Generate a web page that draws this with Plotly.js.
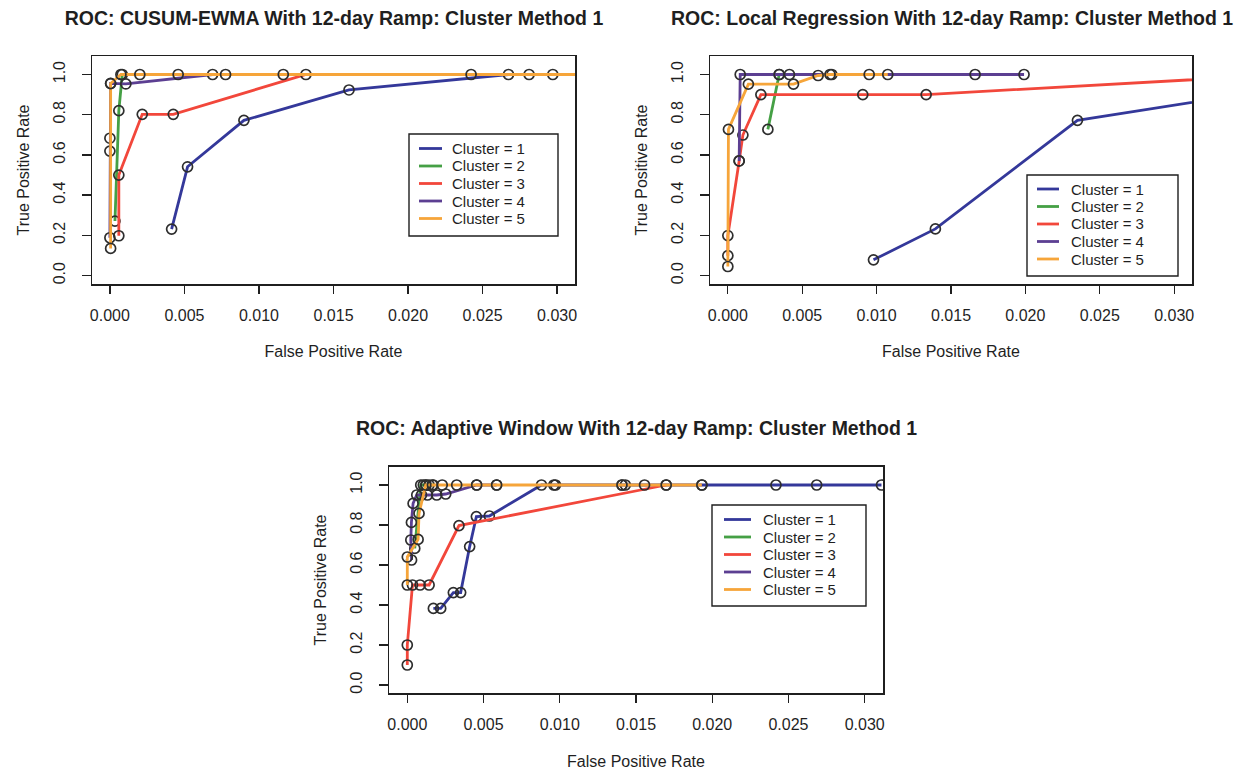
<!DOCTYPE html>
<html>
<head>
<meta charset="utf-8">
<script src="https://cdn.plot.ly/plotly-3.0.1.min.js"></script>
<style>html,body{margin:0;padding:0;background:#fff;}#chart{width:1248px;height:774px;}</style>
</head>
<body>
<div id="chart"></div>
<script>
// ---------------- data ----------------
const clusterNames = ["Cluster = 1", "Cluster = 2", "Cluster = 3", "Cluster = 4", "Cluster = 5"];
const clusterColors = ["#34389a", "#45a045", "#f2473b", "#5c3f92", "#f6a53a"];

const plotTitles = [
  "ROC: CUSUM-EWMA With 12-day Ramp: Cluster Method 1",
  "ROC: Local Regression With 12-day Ramp: Cluster Method 1",
  "ROC: Adaptive Window With 12-day Ramp: Cluster Method 1"
];
const xAxisTitle = "False Positive Rate";
const yAxisTitle = "True Positive Rate";
const xTickVals = [0, 0.005, 0.010, 0.015, 0.020, 0.025, 0.030];
const xTickText = ["0.000", "0.005", "0.010", "0.015", "0.020", "0.025", "0.030"];
const yTickVals = [0, 0.2, 0.4, 0.6, 0.8, 1.0];
const yTickText = ["0.0", "0.2", "0.4", "0.6", "0.8", "1.0"];

// CUSUM-EWMA
const cusum_c1_fpr = [0.00414, 0.00521, 0.00899, 0.01604, 0.02674, 0.02812, 0.02971, 0.0345];
const cusum_c1_tpr = [0.231, 0.541, 0.772, 0.923, 1.0, 1.0, 1.0, 1.0];
const cusum_c2_fpr = [0.00034, 0.00060, 0.00083];
const cusum_c2_tpr = [0.271, 0.820, 1.0];
const cusum_c3_fpr = [0.00060, 0.00060, 0.00217, 0.00425, 0.01315, 0.0345];
const cusum_c3_tpr = [0.198, 0.500, 0.802, 0.802, 1.0, 1.0];
const cusum_c4_fpr = [0.0, 0.0, 0.0, 0.00005, 0.00107, 0.00689];
const cusum_c4_tpr = [0.188, 0.619, 0.683, 0.956, 0.953, 1.0];
const cusum_c5_fpr = [0.00005, 0.00005, 0.00074, 0.00201, 0.00458, 0.00776, 0.01163, 0.02423, 0.0345];
const cusum_c5_tpr = [0.135, 0.955, 1.0, 1.0, 1.0, 1.0, 1.0, 1.0, 1.0];

// Local Regression
const loess_c1_fpr = [0.00979, 0.01395, 0.02350, 0.0385];
const loess_c1_tpr = [0.078, 0.232, 0.772, 0.946];
const loess_c2_fpr = [0.00269, 0.00345];
const loess_c2_tpr = [0.727, 1.0];
const loess_c3_fpr = [0.0, 0.0, 0.00076, 0.00101, 0.00222, 0.00907, 0.01333, 0.0370];
const loess_c3_tpr = [0.099, 0.199, 0.570, 0.699, 0.900, 0.900, 0.900, 0.998];
const loess_c4_fpr = [0.00076, 0.00083, 0.00345, 0.00414, 0.00699, 0.01662, 0.01991];
const loess_c4_tpr = [0.570, 1.0, 1.0, 1.0, 1.0, 1.0, 1.0];
const loess_c5_fpr = [0.0, 0.00004, 0.00138, 0.00441, 0.00607, 0.00687, 0.00950, 0.01075];
const loess_c5_tpr = [0.045, 0.727, 0.952, 0.952, 0.995, 1.0, 1.0, 1.0];

// Adaptive Window
const adapt_c1_fpr = [0.00171, 0.00219, 0.00302, 0.00350, 0.00409, 0.00453, 0.00538, 0.00880, 0.00961, 0.00972, 0.01408, 0.01430, 0.01932, 0.02418, 0.02685, 0.03110];
const adapt_c1_tpr = [0.383, 0.383, 0.462, 0.462, 0.692, 0.842, 0.845, 1.0, 1.0, 1.0, 1.0, 1.0, 1.0, 1.0, 1.0, 1.0];
const adapt_c2_fpr = [0.00049, 0.00088, 0.00105, 0.00124, 0.00143, 0.00170];
const adapt_c2_tpr = [0.683, 1.0, 1.0, 1.0, 1.0, 1.0];
const adapt_c3_fpr = [0.0, 0.0, 0.00034, 0.00084, 0.00143, 0.00339, 0.01698];
const adapt_c3_tpr = [0.100, 0.200, 0.500, 0.500, 0.500, 0.797, 1.0];
const adapt_c4_fpr = [0.00028, 0.00023, 0.00027, 0.00038, 0.00062, 0.00093, 0.00132, 0.00193, 0.00252, 0.00455, 0.00586];
const adapt_c4_tpr = [0.625, 0.725, 0.813, 0.908, 0.950, 0.950, 0.950, 0.950, 0.955, 1.0, 1.0];
const adapt_c5_fpr = [0.0, 0.0, 0.00071, 0.00077, 0.00121, 0.00165, 0.00229, 0.00324, 0.00455, 0.00586, 0.01408, 0.01556, 0.01698, 0.01932];
const adapt_c5_tpr = [0.500, 0.640, 0.728, 0.858, 1.0, 1.0, 1.0, 1.0, 1.0, 1.0, 1.0, 1.0, 1.0, 1.0];

const panels = [
  { fpr: [cusum_c1_fpr, cusum_c2_fpr, cusum_c3_fpr, cusum_c4_fpr, cusum_c5_fpr],
    tpr: [cusum_c1_tpr, cusum_c2_tpr, cusum_c3_tpr, cusum_c4_tpr, cusum_c5_tpr] },
  { fpr: [loess_c1_fpr, loess_c2_fpr, loess_c3_fpr, loess_c4_fpr, loess_c5_fpr],
    tpr: [loess_c1_tpr, loess_c2_tpr, loess_c3_tpr, loess_c4_tpr, loess_c5_tpr] },
  { fpr: [adapt_c1_fpr, adapt_c2_fpr, adapt_c3_fpr, adapt_c4_fpr, adapt_c5_fpr],
    tpr: [adapt_c1_tpr, adapt_c2_tpr, adapt_c3_tpr, adapt_c4_tpr, adapt_c5_tpr] }
];

// ---------------- layout geometry (pixels) ----------------
const W = 1248, H = 774;
const fx = v => v / W;
const fy = v => 1 - v / H;
const FONT = "Liberation Sans, Arial, Helvetica, sans-serif";
const INK = "#1f1f1f";
const LEG_GAP = 17.5;

const frames = [
  { l: 92, r: 575, t: 56, b: 284, titleX: 334, titleY: 18,
    leg: { l: 409, r: 558, t: 134, b: 236, lineL: 419, lineR: 442, textX: 451, top: 148.5 } },
  { l: 710, r: 1192, t: 56, b: 284, titleX: 952, titleY: 18,
    leg: { l: 1027, r: 1178, t: 175, b: 276, lineL: 1037, lineR: 1059, textX: 1070, top: 189 } },
  { l: 389, r: 883, t: 466.6, b: 693.4, titleX: 636, titleY: 428,
    leg: { l: 712, r: 866, t: 505, b: 606, lineL: 724, lineR: 751, textX: 762, top: 519.5 } }
];

const traces = [];
const layout = {
  width: W, height: H,
  margin: { l: 0, r: 0, t: 0, b: 0 },
  paper_bgcolor: "#ffffff",
  plot_bgcolor: "#ffffff",
  showlegend: false,
  font: { family: FONT, color: INK, size: 16 },
  title: { text: "<b>" + plotTitles[0] + "</b>", x: fx(frames[0].titleX), xanchor: "center", xref: "paper",
           y: fy(frames[0].titleY), yanchor: "middle", yref: "container", font: { size: 19.5, family: FONT, color: INK } },
  annotations: [],
  shapes: []
};

panels.forEach((p, i) => {
  const fr = frames[i];
  const n = i === 0 ? "" : String(i + 1);
  const xa = "xaxis" + n, ya = "yaxis" + n;
  layout[xa] = {
    domain: [fx(fr.l), fx(fr.r)], anchor: "y" + n, range: [-0.0012, 0.0312],
    tickvals: xTickVals, ticktext: xTickText, ticks: "outside", ticklen: 8, tickwidth: 1.3, tickcolor: INK,
    showline: true, mirror: true, linecolor: INK, linewidth: 1.5, showgrid: false, zeroline: false,
    tickfont: { size: 16, family: FONT, color: INK }, ticklabelstandoff: 8,
    title: { text: xAxisTitle, font: { size: 16, family: FONT, color: INK }, standoff: 23 }
  };
  layout[ya] = {
    domain: [fy(fr.b), fy(fr.t)], anchor: "x" + n, range: [-0.042, 1.092],
    tickvals: yTickVals, ticktext: yTickText, ticks: "outside", ticklen: 9, tickwidth: 1.3, tickcolor: INK,
    showline: true, mirror: true, linecolor: INK, linewidth: 1.5, showgrid: false, zeroline: false,
    tickangle: -90, tickfont: { size: 16, family: FONT, color: INK }, ticklabelstandoff: 10,
    title: { text: yAxisTitle, font: { size: 16, family: FONT, color: INK }, standoff: 17 }
  };
  if (i > 0) {
    layout.annotations.push({
      text: "<b>" + plotTitles[i] + "</b>", xref: "paper", yref: "paper",
      x: fx(fr.titleX), y: fy(fr.titleY), xanchor: "center", yanchor: "middle", showarrow: false,
      font: { size: 19.5, family: FONT, color: INK }
    });
  }
  for (let c = 0; c < clusterNames.length; c++) {
    traces.push({
      type: "scatter", mode: "lines+markers", name: clusterNames[c],
      x: p.fpr[c], y: p.tpr[c], xaxis: "x" + n, yaxis: "y" + n, cliponaxis: true,
      line: { color: clusterColors[c], width: 2.8 },
      marker: { symbol: "circle-open", size: 10, color: "#2e2e2e", line: { width: 1.7, color: "#2e2e2e" } }
    });
  }
  // legend box (drawn manually to mimic R legend)
  const lg = fr.leg;
  layout.shapes.push({ type: "rect", xref: "paper", yref: "paper", x0: fx(lg.l), x1: fx(lg.r), y0: fy(lg.b), y1: fy(lg.t),
    line: { color: INK, width: 1.4 }, fillcolor: "#ffffff", layer: "above" });
  clusterNames.forEach((nm, c) => {
    const rowY = lg.top + c * LEG_GAP;
    layout.shapes.push({ type: "line", xref: "paper", yref: "paper", x0: fx(lg.lineL), x1: fx(lg.lineR),
      y0: fy(rowY), y1: fy(rowY), line: { color: clusterColors[c], width: 2.8 }, layer: "above" });
    layout.annotations.push({ text: nm, xref: "paper", yref: "paper", x: fx(lg.textX), y: fy(rowY),
      xanchor: "left", yanchor: "middle", showarrow: false, borderpad: 0,
      font: { size: 15, family: FONT, color: INK } });
  });
});

Plotly.newPlot("chart", traces, layout, { staticPlot: true, displayModeBar: false });
</script>
</body>
</html>
